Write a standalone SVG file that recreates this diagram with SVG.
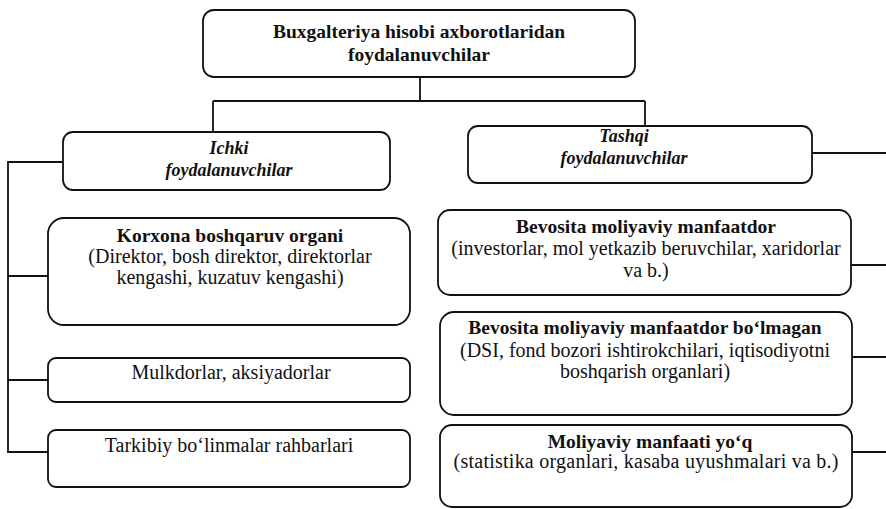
<svg xmlns="http://www.w3.org/2000/svg" width="886" height="509" viewBox="0 0 886 509" font-family="Liberation Serif, DejaVu Serif, serif">
  <style>
    .box { fill: #ffffff; stroke: #111111; stroke-width: 1.8; }
    .link { fill: none; stroke: #111111; stroke-width: 1.8; }
    text { fill: #111111; text-anchor: middle; }
    .t { font-size: 19.5px; font-weight: bold; }
    .h { font-size: 18px; font-weight: bold; font-style: italic; }
    .r { font-size: 20px; }
  </style>
  <rect width="886" height="509" fill="#ffffff"/>

  <!-- connectors -->
  <g id="connectors">
    <path class="link" d="M420 77 V101 M213 101 H645 M213 101 V132 M645 101 V126"/>
    <path class="link" d="M63 162 H8 V452 H48 M8 276 H48 M8 380 H48"/>
    <path class="link" d="M812 153 H886 M851 265 H886 M852 357 H886 M852 452 H886"/>
  </g>

  <g id="root">
    <rect class="box" x="203" y="10" width="432" height="67" rx="11"/>
    <text class="t" x="419" y="38">Buxgalteriya hisobi axborotlaridan</text>
    <text class="t" x="419" y="61">foydalanuvchilar</text>
  </g>

  <g id="ichki">
    <rect class="box" x="63" y="132" width="327" height="58" rx="10"/>
    <text class="h" x="229" y="154">Ichki</text>
    <text class="h" x="229" y="176">foydalanuvchilar</text>
  </g>

  <g id="tashqi">
    <rect class="box" x="468" y="126" width="344" height="57" rx="10"/>
    <text class="h" x="624" y="142">Tashqi</text>
    <text class="h" x="624" y="164">foydalanuvchilar</text>
  </g>

  <g id="korxona">
    <rect class="box" x="48" y="218" width="362" height="107" rx="16"/>
    <text class="t" x="230" y="242">Korxona boshqaruv organi</text>
    <text class="r" x="230" y="263">(Direktor, bosh direktor, direktorlar</text>
    <text class="r" x="230" y="284">kengashi, kuzatuv kengashi)</text>
  </g>

  <g id="mulkdorlar">
    <rect class="box" x="48" y="358" width="362" height="44" rx="8"/>
    <text class="r" x="231" y="379">Mulkdorlar, aksiyadorlar</text>
  </g>

  <g id="tarkibiy">
    <rect class="box" x="48" y="430" width="362" height="57" rx="8"/>
    <text class="r" x="229" y="452">Tarkibiy bo‘linmalar rahbarlari</text>
  </g>

  <g id="bevosita">
    <rect class="box" x="438" y="210" width="413" height="85" rx="12"/>
    <text class="t" x="646" y="233">Bevosita moliyaviy manfaatdor</text>
    <text class="r" x="646" y="255">(investorlar, mol yetkazib beruvchilar, xaridorlar</text>
    <text class="r" x="646" y="277">va b.)</text>
  </g>

  <g id="bevosita-emas">
    <rect class="box" x="440" y="312" width="412" height="103" rx="14"/>
    <text class="t" x="645" y="334">Bevosita moliyaviy manfaatdor bo‘lmagan</text>
    <text class="r" x="645" y="357">(DSI, fond bozori ishtirokchilari, iqtisodiyotni</text>
    <text class="r" x="645" y="378">boshqarish organlari)</text>
  </g>

  <g id="manfaati-yoq">
    <rect class="box" x="440" y="425" width="412" height="82" rx="12"/>
    <text class="t" x="650" y="448">Moliyaviy manfaati yo‘q</text>
    <text class="r" x="646" y="468" textLength="385" lengthAdjust="spacing">(statistika organlari, kasaba uyushmalari va b.)</text>
  </g>
</svg>
